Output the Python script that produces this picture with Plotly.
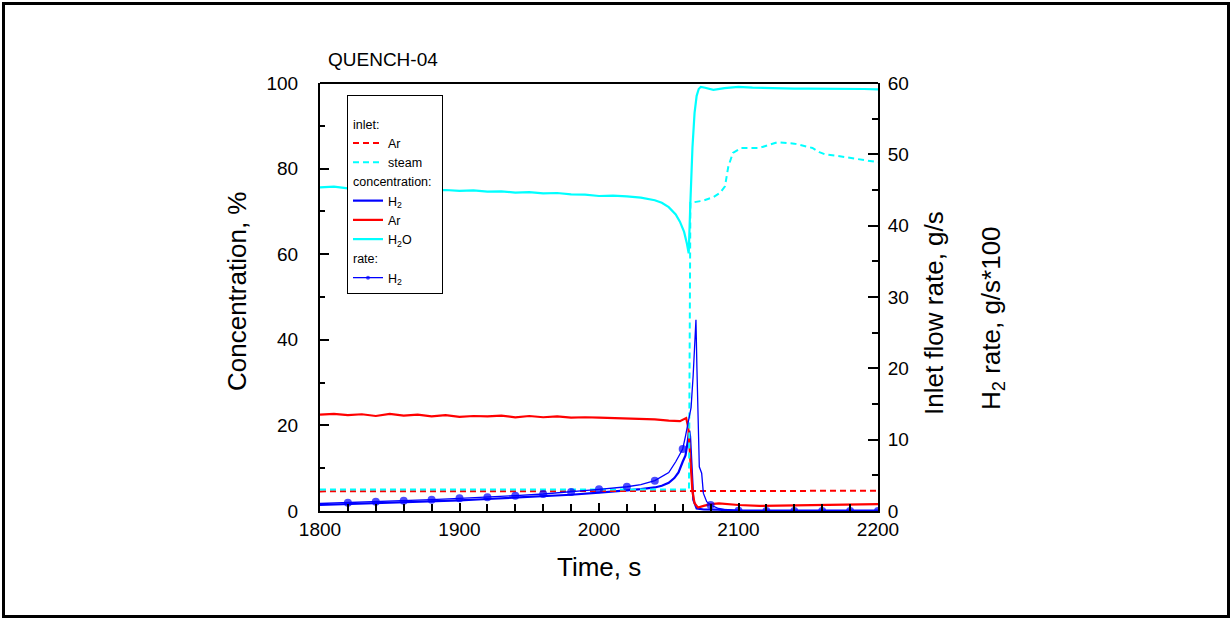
import plotly.graph_objects as go

# ---------------- data ----------------
# H2O concentration, % (left axis)
t_h2o = [1800, 1810, 1820, 1830, 1840, 1850, 1860, 1870, 1880, 1890, 1900, 1910, 1920,
         1930, 1940, 1950, 1960, 1970, 1980, 1990, 2000, 2010, 2020, 2030, 2040, 2045,
         2050, 2055, 2058, 2061, 2063, 2064.3, 2065.5, 2067, 2068.5, 2070, 2071.5, 2073,
         2076, 2082, 2090, 2100, 2110, 2120, 2130, 2140, 2150, 2160, 2170, 2180, 2190, 2200]
v_h2o = [75.6, 75.8, 75.4, 75.6, 75.2, 75.3, 75.0, 75.2, 74.9, 75.0, 74.8, 74.9, 74.6,
         74.7, 74.4, 74.5, 74.2, 74.3, 74.0, 73.9, 73.6, 73.7, 73.5, 73.2, 72.6, 72.0,
         71.0, 69.3, 67.6, 65.2, 62.5, 60.2, 72.0, 85.0, 93.0, 97.0, 98.6, 99.1,
         98.9, 98.4, 98.8, 99.1, 98.9, 98.8, 98.8, 98.7, 98.7, 98.7, 98.6, 98.6, 98.6, 98.5]

# Ar concentration, % (left axis)
t_ar = [1800, 1810, 1820, 1830, 1840, 1850, 1860, 1870, 1880, 1890, 1900, 1910, 1920,
        1930, 1940, 1950, 1960, 1970, 1980, 1990, 2000, 2010, 2020, 2030, 2040, 2050,
        2058, 2062.5, 2064, 2065.5, 2067, 2068.5, 2071, 2075, 2080, 2086, 2100, 2115,
        2130, 2150, 2170, 2185, 2200]
v_ar = [22.5, 22.7, 22.4, 22.6, 22.2, 22.7, 22.3, 22.5, 22.1, 22.4, 22.0, 22.2, 22.1,
        22.3, 21.9, 22.2, 21.9, 22.1, 21.8, 21.9, 21.8, 21.7, 21.6, 21.5, 21.4, 21.1,
        21.0, 21.7, 19.5, 12.0, 4.5, 1.8, 0.8, 1.2, 1.6, 1.8, 1.4, 1.2,
        1.3, 1.4, 1.5, 1.5, 1.6]

# H2 concentration, % (left axis)
t_h2 = [1800, 1820, 1840, 1860, 1880, 1900, 1920, 1940, 1960, 1980, 2000, 2010, 2020,
        2030, 2040, 2045, 2050, 2054, 2057, 2060, 2062, 2063.5, 2064.7, 2065.3, 2066.4,
        2067.6, 2070, 2075, 2085, 2095, 2100, 2120, 2140, 2160, 2180, 2200]
v_h2 = [1.4, 1.6, 1.8, 2.0, 2.3, 2.5, 2.8, 3.1, 3.4, 3.8, 4.3, 4.5, 4.8,
        5.1, 5.5, 5.9, 6.6, 7.7, 9.0, 11.5, 13.0, 16.0, 18.8, 17.4, 10.4,
        2.6, 0.6, 0.35, 0.3, 0.15, 0.1, 0.1, 0.1, 0.1, 0.1, 0.1]

# H2 release rate, g/s*100 (right axis)
t_rate = [1800, 1820, 1840, 1860, 1880, 1900, 1920, 1940, 1960, 1980, 2000, 2020, 2030,
          2040, 2045, 2050, 2055, 2060, 2062, 2063.5, 2064.7, 2066, 2067.5, 2068.8,
          2069.5, 2070.2, 2071.2, 2071.9, 2073.6, 2074.8, 2077.2, 2080, 2085, 2090,
          2100, 2120, 2140, 2160, 2180, 2200]
v_rate = [1.05, 1.17, 1.31, 1.45, 1.59, 1.78, 1.92, 2.15, 2.38, 2.66, 3.04, 3.4, 3.7,
          4.25, 4.8, 5.4, 6.9, 8.7, 10.5, 12.0, 13.5, 14.5, 19.0, 25.0,
          26.8, 20.0, 10.0, 6.2, 5.3, 2.5, 1.3, 0.84, 0.4, 0.2,
          0.05, 0.0, 0.0, 0.0, 0.0, 0.0]

# inlet flow rates, g/s (right axis)
t_ar_in = [1800, 1900, 2000, 2064, 2070, 2100, 2150, 2200]
v_ar_in = [2.75, 2.75, 2.75, 2.72, 2.8, 2.8, 2.82, 2.85]

t_steam_in = [1800, 1900, 2000, 2064.5, 2065.5, 2074.6, 2082, 2086.7, 2090.3, 2092.7,
              2096, 2102, 2115, 2128, 2140, 2150, 2153, 2158, 2162, 2170, 2185, 2200]
v_steam_in = [3.0, 3.0, 3.0, 3.0, 43.2, 43.5, 44.0, 44.6, 45.5, 48.3,
              50.2, 50.9, 50.9, 51.7, 51.5, 51.0, 50.9, 50.3, 50.0, 49.8, 49.4, 48.9]

x_ticks = [1800, 1900, 2000, 2100, 2200]
yl_ticks = [0, 20, 40, 60, 80, 100]
yr_ticks = [0, 10, 20, 30, 40, 50, 60]

# ---------------- styling ----------------
FONT = "Liberation Sans, Arial, sans-serif"
BLUE = "#0000ff"
RED = "#ff0000"
CYAN = "#00ffff"
DASH = "6px,4px"

W, H = 1232, 620
ML, MR, MT, MB = 320, 354, 83, 109
PW, PH = W - ML - MR, H - MT - MB


def px_to_paper_x(px):
    return (px - ML) / PW


def px_to_paper_y(py):
    return (H - MB - py) / PH


fig = go.Figure()

fig.add_trace(go.Scatter(
    x=t_ar_in, y=v_ar_in, yaxis="y2", mode="lines", name="Ar",
    line=dict(color=RED, width=2, dash=DASH),
    legendgroup="inlet", legendgrouptitle=dict(text="inlet:")))
fig.add_trace(go.Scatter(
    x=t_steam_in, y=v_steam_in, yaxis="y2", mode="lines", name="steam",
    line=dict(color=CYAN, width=2, dash=DASH), legendgroup="inlet"))

fig.add_trace(go.Scatter(
    x=t_h2, y=v_h2, mode="lines", name="H<sub>2</sub>",
    line=dict(color=BLUE, width=2.2),
    legendgroup="conc", legendgrouptitle=dict(text="concentration:")))
fig.add_trace(go.Scatter(
    x=t_ar, y=v_ar, mode="lines", name="Ar",
    line=dict(color=RED, width=2.2), legendgroup="conc"))
fig.add_trace(go.Scatter(
    x=t_h2o, y=v_h2o, mode="lines", name="H<sub>2</sub>O",
    line=dict(color=CYAN, width=2.2), legendgroup="conc"))

marker_sizes = [8 if (t % 20 == 0 and t > 1800) else 0 for t in t_rate]
fig.add_trace(go.Scatter(
    x=t_rate, y=v_rate, yaxis="y2", mode="lines+markers", name="H<sub>2</sub>",
    line=dict(color=BLUE, width=1.3),
    marker=dict(color=BLUE, size=marker_sizes, line=dict(width=0)),
    legendgroup="rate", legendgrouptitle=dict(text="rate:")))

axis_common = dict(
    showline=True, linecolor="black", linewidth=2, showgrid=False, zeroline=False,
    ticks="inside", tickcolor="black", tickwidth=1.5,
    tickfont=dict(family=FONT, size=19, color="black"),
)

fig.update_layout(
    width=W, height=H,
    margin=dict(l=ML, r=MR, t=MT, b=MB, autoexpand=False),
    paper_bgcolor="white", plot_bgcolor="white",
    font=dict(family=FONT, color="black"),
    showlegend=True,
    xaxis=dict(range=[1800, 2200], tickvals=x_ticks, ticklen=8,
               minor=dict(dtick=20, tick0=1800, ticks="inside", ticklen=7,
                          tickcolor="black", tickwidth=1.5),
               **axis_common),
    yaxis=dict(range=[0, 100], tickvals=yl_ticks, ticklen=9, ticklabelstandoff=16,
               minor=dict(dtick=10, tick0=0, ticks="inside", ticklen=5,
                          tickcolor="black", tickwidth=1.5),
               **axis_common),
    yaxis2=dict(range=[0, 60], tickvals=yr_ticks, ticklen=10, overlaying="y", side="right",
                ticklabelstandoff=4,
                minor=dict(dtick=5, tick0=0, ticks="inside", ticklen=6,
                           tickcolor="black", tickwidth=1.5),
                **axis_common),
    legend=dict(x=px_to_paper_x(347), y=px_to_paper_y(95), xanchor="left", yanchor="top",
                bgcolor="white", bordercolor="black", borderwidth=1,
                font=dict(family=FONT, size=12.5, color="black"),
                grouptitlefont=dict(family=FONT, size=12.5, color="black"),
                title=dict(text=" ", font=dict(family=FONT, size=10)),
                tracegroupgap=0, itemwidth=30, traceorder="grouped"),
)

# top border of the plot box (no ticks)
fig.add_shape(type="line", xref="paper", yref="paper", x0=0, x1=1, y0=1, y1=1,
              line=dict(color="black", width=2))
# outer frame around the whole picture
fig.add_shape(type="rect", xref="paper", yref="paper",
              x0=px_to_paper_x(3.5), x1=px_to_paper_x(W - 3.5),
              y0=px_to_paper_y(H - 3.5), y1=px_to_paper_y(3.5),
              line=dict(color="black", width=3))

fig.add_annotation(text="QUENCH-04", xref="paper", yref="paper",
                   x=px_to_paper_x(326), y=px_to_paper_y(60), xanchor="left", yanchor="middle",
                   showarrow=False, font=dict(family=FONT, size=19, color="black"))
fig.add_annotation(text="Time, s", xref="paper", yref="paper",
                   x=0.5, y=px_to_paper_y(567), xanchor="center", yanchor="middle",
                   showarrow=False, font=dict(family=FONT, size=26, color="black"))
fig.add_annotation(text="Concentration, %", xref="paper", yref="paper", textangle=-90,
                   x=px_to_paper_x(237), y=px_to_paper_y(292), xanchor="center", yanchor="middle",
                   showarrow=False, font=dict(family=FONT, size=26, color="black"))
fig.add_annotation(text="Inlet flow rate, g/s", xref="paper", yref="paper", textangle=-90,
                   x=px_to_paper_x(934), y=px_to_paper_y(313), xanchor="center", yanchor="middle",
                   showarrow=False, font=dict(family=FONT, size=26, color="black"))
fig.add_annotation(text="H<sub>2</sub> rate, g/s*100", xref="paper", yref="paper", textangle=-90,
                   x=px_to_paper_x(992), y=px_to_paper_y(318), xanchor="center", yanchor="middle",
                   showarrow=False, font=dict(family=FONT, size=26, color="black"))

fig.write_html("out.html", config={"displayModeBar": False},
               post_script="document.body.style.margin='0';")
